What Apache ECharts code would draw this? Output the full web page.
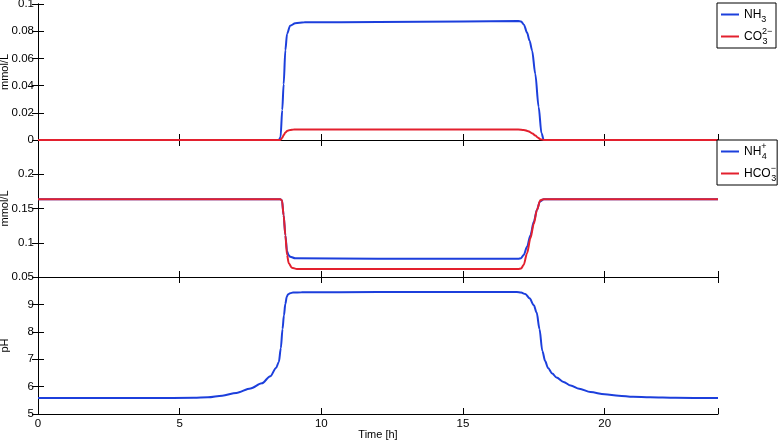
<!DOCTYPE html>
<html>
<head>
<meta charset="utf-8">
<script src="https://cdn.jsdelivr.net/npm/echarts@6/dist/echarts.min.js"></script>
<style>html,body{margin:0;padding:0;background:#fff}#c{width:779px;height:441px}</style>
</head>
<body>
<div id="c"></div>
<script>
// ---- data (time in hours) ----
const nh3T = [0, 8.5, 8.56, 8.62, 8.67, 8.73, 8.79, 8.9, 9.08, 9.4, 12, 15, 16.95, 17.05, 17.15, 17.26, 17.35, 17.44, 17.55, 17.67, 17.77, 17.85, 24];
const nh3V = [0, 0, 0.002, 0.022, 0.041, 0.066, 0.078, 0.084, 0.0859, 0.0865, 0.0868, 0.0872, 0.0875, 0.0872, 0.0848, 0.079, 0.073, 0.0657, 0.0487, 0.0243, 0.005, 0, 0];
const co3T = [0, 8.55, 8.62, 8.67, 8.73, 8.79, 8.9, 9.02, 12, 16.95, 17.15, 17.3, 17.45, 17.55, 17.65, 17.73, 17.85, 24];
const co3V = [0, 0, 0.0015, 0.0036, 0.0055, 0.0066, 0.0074, 0.0077, 0.0078, 0.0078, 0.0074, 0.0065, 0.0048, 0.0033, 0.0017, 0.0005, 0, 0];
const nh4T = [0, 8.55, 8.61, 8.67, 8.73, 8.79, 8.84, 8.9, 9.08, 12, 16.95, 17.05, 17.14, 17.26, 17.38, 17.5, 17.61, 17.71, 17.85, 24];
const nh4V = [0.1634, 0.1634, 0.162, 0.140, 0.111, 0.088, 0.082, 0.0797, 0.0773, 0.0768, 0.0765, 0.0775, 0.082, 0.094, 0.111, 0.131, 0.148, 0.160, 0.1634, 0.1634];
const hco3T = [0, 8.55, 8.61, 8.67, 8.73, 8.79, 8.85, 8.96, 9.14, 12, 16.95, 17.05, 17.14, 17.26, 17.38, 17.5, 17.61, 17.73, 17.85, 24];
const hco3V = [0.1634, 0.1634, 0.162, 0.140, 0.111, 0.082, 0.070, 0.0636, 0.0617, 0.0615, 0.0617, 0.0625, 0.0675, 0.0846, 0.1065, 0.128, 0.148, 0.162, 0.1634, 0.1634];
const phT = [0, 4, 5.5, 6, 6.5, 7, 7.5, 7.9, 8.2, 8.4, 8.5, 8.57, 8.63, 8.68, 8.73, 8.78, 8.83, 8.9, 9.0, 9.3, 12, 16.9, 17.05, 17.2, 17.35, 17.5, 17.6, 17.7, 17.8, 17.9, 18.0, 18.15, 18.3, 18.55, 18.8, 19.1, 19.5, 20.0, 20.5, 21.0, 21.6, 22.5, 24];
const phV = [5.58, 5.58, 5.59, 5.61, 5.67, 5.77, 5.93, 6.12, 6.38, 6.68, 6.9, 7.4, 8.1, 8.6, 9.02, 9.28, 9.37, 9.41, 9.43, 9.44, 9.45, 9.45, 9.43, 9.38, 9.22, 8.97, 8.7, 8.1, 7.3, 6.93, 6.68, 6.48, 6.33, 6.17, 6.04, 5.92, 5.8, 5.72, 5.67, 5.63, 5.61, 5.59, 5.58];
const xTicks = {min: 0, max: 24, interval: 5};
const yTop = {min: 0, max: 0.1, interval: 0.02};
const yMid = {min: 0.05, max: 0.25, interval: 0.05};
const yBot = {min: 5, max: 10, interval: 1};

const zip = (t, v) => t.map((x, i) => [x, v[i]]);
const FONT = 'Liberation Sans';
const BLUE = '#1c3fdc';
const RED = '#e3202e';

const grids = [
  {left: 38, right: 61, top: 4, height: 136, containLabel: false, outerBoundsMode: 'none'},
  {left: 38, right: 61, top: 140, height: 137, containLabel: false, outerBoundsMode: 'none'},
  {left: 38, right: 61, top: 277, height: 137, containLabel: false, outerBoundsMode: 'none'}
];
const lineAx = {show: true, lineStyle: {color: '#000', width: 1}};
const tickIn = {show: true, inside: true, length: 6, lineStyle: {color: '#000', width: 1}};
const lbl = {color: '#000', fontFamily: FONT, fontSize: 11.5};

const xAxis = [];
const yAxis = [];
[0, 1, 2].forEach(g => {
  xAxis.push({type: 'value', gridIndex: g, position: 'bottom', min: xTicks.min, max: xTicks.max, interval: xTicks.interval,
    axisLine: lineAx, axisTick: tickIn, splitLine: {show: false},
    axisLabel: Object.assign({show: g === 2, margin: 4, formatter: v => v === 24 ? '' : String(v)}, lbl),
    name: g === 2 ? 'Time [h]' : '', nameLocation: 'middle', nameGap: 15, nameMoveOverlap: false,
    nameTextStyle: {color: '#000', fontFamily: FONT, fontSize: 11}});
  xAxis.push({type: 'value', gridIndex: g, position: 'top', min: xTicks.min, max: xTicks.max, interval: xTicks.interval,
    axisLine: lineAx, axisTick: tickIn, splitLine: {show: false}, axisLabel: {show: false}});
});
const ys = [yTop, yMid, yBot];
const yNames = ['mmol/L', 'mmol/L', 'pH'];
const yFmt = [v => String(+v.toFixed(2)), v => String(+v.toFixed(2)), v => String(+v.toFixed(0))];
[0, 1, 2].forEach(g => {
  yAxis.push({type: 'value', gridIndex: g, position: 'left', min: ys[g].min, max: ys[g].max, interval: ys[g].interval,
    axisLine: lineAx, axisTick: tickIn, splitLine: {show: false},
    axisLabel: Object.assign({margin: 4, showMaxLabel: g === 0, formatter: yFmt[g]}, lbl),
    name: yNames[g], nameLocation: 'middle', nameGap: 28, nameRotate: 90, nameMoveOverlap: false,
    nameTextStyle: {color: '#000', fontFamily: FONT, fontSize: 11}});
  yAxis.push({type: 'value', gridIndex: g, position: 'right', min: ys[g].min, max: ys[g].max, interval: ys[g].interval,
    axisLine: lineAx, axisTick: tickIn, splitLine: {show: false}, axisLabel: {show: false}});
});

const mk = (name, t, v, color, g) => ({
  name, type: 'line', xAxisIndex: g * 2, yAxisIndex: g * 2, data: zip(t, v),
  symbol: 'none', smooth: 0.3, smoothMonotone: 'x', silent: true, animation: false,
  lineStyle: {color, width: 2}, itemStyle: {color}
});

const legendNames = {
  NH3: 'NH{sub|3}',
  CO3: 'CO{sup|2−}{sub|3}',
  NH4: 'NH{sup|+}{sub|4}',
  HCO3: 'HCO{sup|−}{sub|3}'
};
const rich = {
  sub: {fontSize: 9, fontFamily: FONT, color: '#000', verticalAlign: 'bottom', lineHeight: 19},
  sup: {fontSize: 9, fontFamily: FONT, color: '#000', verticalAlign: 'top', width: 0.5, lineHeight: 19}
};
const legendBase = {
  orient: 'vertical', left: 717, borderColor: '#000', borderWidth: 1, backgroundColor: '#fff',
  padding: [2, 1, 2, 4], itemGap: 3, itemWidth: 18, itemHeight: 10, icon: 'path://M0,4 L18,4 L18,6 L0,6 Z',
  formatter: n => legendNames[n],
  textStyle: {color: '#000', fontFamily: FONT, fontSize: 12, lineHeight: 19, width: 31, overflow: 'none', rich}
};

const option = {
  animation: false,
  backgroundColor: '#fff',
  grid: grids,
  xAxis, yAxis,
  legend: [
    Object.assign({}, legendBase, {top: 3, data: ['NH3', 'CO3']}),
    Object.assign({}, legendBase, {top: 140, data: ['NH4', 'HCO3']})
  ],
  series: [
    mk('NH3', nh3T, nh3V, BLUE, 0),
    mk('CO3', co3T, co3V, RED, 0),
    mk('NH4', nh4T, nh4V, BLUE, 1),
    mk('HCO3', hco3T, hco3V, RED, 1),
    mk('pH', phT, phV, BLUE, 2)
  ]
};
const chart = echarts.init(document.getElementById('c'), null, {renderer: 'canvas'});
chart.setOption(option);
</script>
</body>
</html>
